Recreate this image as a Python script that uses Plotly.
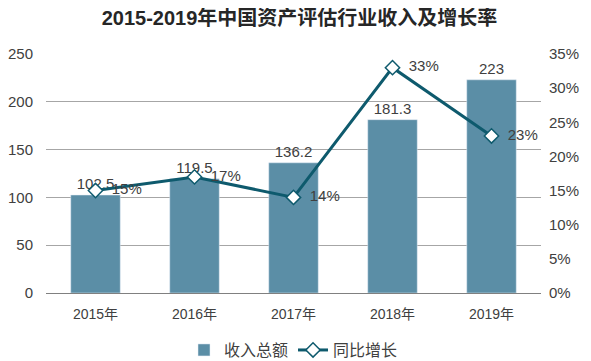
import plotly.graph_objects as go

years = ["2015年", "2016年", "2017年", "2018年", "2019年"]
revenue = [102.5, 119.5, 136.2, 181.3, 223]
growth = [15, 17, 14, 33, 23]
revenue_labels = ["102.5", "119.5", "136.2", "181.3", "223"]
growth_labels = ["15%", "17%", "14%", "33%", "23%"]

FONT = "Liberation Sans, Arial, Noto Sans CJK SC, sans-serif"
BAR = "#5b8ea6"
LINE = "#0e5a6d"

fig = go.Figure()
fig.add_trace(go.Bar(
    x=years, y=revenue, name="收入总额", marker_color=BAR,
    text=revenue_labels, textposition="outside", cliponaxis=False,
    textfont=dict(size=15, color="#404040", family=FONT),
))
fig.add_trace(go.Scatter(
    x=years, y=growth, name="同比增长", yaxis="y2", mode="lines+markers+text",
    line=dict(color=LINE, width=3),
    marker=dict(symbol="diamond", size=11, color="white", line=dict(color=LINE, width=1.5)),
    text=growth_labels, texttemplate="  %{text}", textposition="middle right", cliponaxis=False,
    textfont=dict(size=15, color="#404040", family=FONT),
))

# page body has an 8px margin, so the figure is sized/placed to compensate
fig.update_layout(
    width=583, height=353,
    margin=dict(l=38, r=50, t=46, b=68),
    paper_bgcolor="white", plot_bgcolor="white",
    font=dict(family=FONT, size=14, color="#404040"),
    title=dict(text="<b>2015-2019年中国资产评估行业收入及增长率</b>", x=0.5, xanchor="center",
               yref="container", y=0.972, yanchor="middle",
               font=dict(size=20, color="#262626", family=FONT)),
    bargap=0.5,
    xaxis=dict(showgrid=False, showline=True, linecolor="#808080", linewidth=1,
               ticks="", automargin=False, ticklabelstandoff=8,
               tickfont=dict(size=14, color="#404040")),
    yaxis=dict(range=[0, 250], dtick=50, showgrid=True, gridcolor="#a6a6a6", gridwidth=1,
               zeroline=False, ticks="", ticklabelstandoff=12, automargin=False,
               tickfont=dict(size=15, color="#404040")),
    yaxis2=dict(range=[0, 35], dtick=5, overlaying="y", side="right", showgrid=False,
                zeroline=False, ticksuffix="%", ticks="", ticklabelstandoff=7, automargin=False,
                tickfont=dict(size=15, color="#404040")),
    legend=dict(orientation="h", x=0.5, xanchor="center", yref="container", y=0.031,
                yanchor="middle", font=dict(size=16, color="#404040")),
    showlegend=True,
)

fig.write_html("out.html")
